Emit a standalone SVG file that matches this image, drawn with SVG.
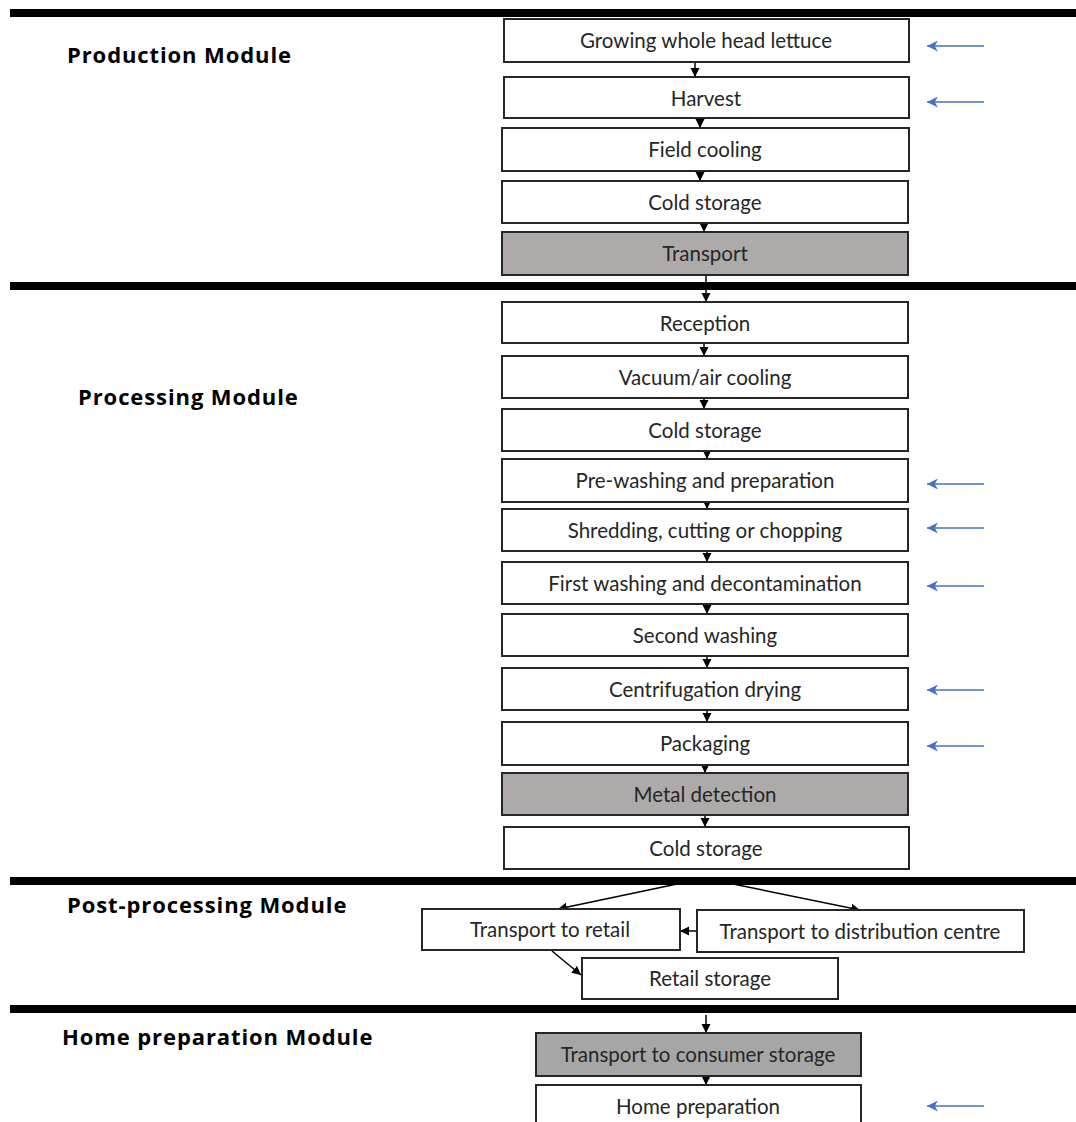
<svg xmlns="http://www.w3.org/2000/svg" width="1076" height="1122" viewBox="0 0 1076 1122">
<style>
.bar{fill:#000}
.box{fill:#fff;stroke:#262626;stroke-width:2}
.grey{fill:#aeaaaa;stroke:#262626;stroke-width:2}
.grey2{fill:#a6a6a6;stroke:#262626;stroke-width:2}
.t{font-family:"Lato","Liberation Sans",sans-serif;font-size:20.5px;fill:#262626;text-anchor:middle;dominant-baseline:central}
.m{font-family:"Open Sans","Liberation Sans",sans-serif;font-size:22px;font-weight:bold;letter-spacing:0.9px;fill:#000}
.c{stroke:#000;stroke-width:1.5;fill:none;marker-end:url(#ah)}
.b{stroke:#4472c4;stroke-width:1.5;fill:none;marker-end:url(#bh)}
</style>
<defs>
<marker id="ah" viewBox="0 0 10 10" refX="10" refY="5" markerWidth="9" markerHeight="10" markerUnits="userSpaceOnUse" orient="auto"><path d="M0,0 L10,5 L0,10 z" fill="#000"/></marker>
<marker id="bh" viewBox="0 0 10 10" refX="10" refY="5" markerWidth="11" markerHeight="11" markerUnits="userSpaceOnUse" orient="auto"><path d="M0,0 L10,5 L0,10 L3,5 z" fill="#4472c4"/></marker>
</defs>
<rect width="1076" height="1122" fill="#fff"/>
<g id="bars">
<rect class="bar" x="10" y="9" width="1066" height="8"/>
<rect class="bar" x="10" y="282" width="1066" height="8"/>
<rect class="bar" x="10" y="877" width="1066" height="8"/>
<rect class="bar" x="10" y="1005" width="1066" height="8"/>
</g>
<g id="labels">
<text class="m" x="67" y="63">Production Module</text>
<text class="m" x="78" y="405">Processing Module</text>
<text class="m" x="67" y="913">Post-processing Module</text>
<text class="m" x="62" y="1045">Home preparation Module</text>
</g>
<g id="connectors">
<line class="c" x1="695" y1="62" x2="695" y2="77"/>
<line class="c" x1="700" y1="118" x2="700" y2="128"/>
<line class="c" x1="700" y1="171" x2="700" y2="181"/>
<line class="c" x1="704" y1="223" x2="704" y2="232"/>
<line class="c" x1="706" y1="275" x2="706" y2="302"/>
<line class="c" x1="704" y1="343" x2="704" y2="356"/>
<line class="c" x1="704" y1="398" x2="704" y2="409"/>
<line class="c" x1="707" y1="451" x2="707" y2="459"/>
<line class="c" x1="707" y1="502" x2="707" y2="509"/>
<line class="c" x1="707" y1="551" x2="707" y2="562"/>
<line class="c" x1="707" y1="604" x2="707" y2="614"/>
<line class="c" x1="707" y1="656" x2="707" y2="668"/>
<line class="c" x1="707" y1="710" x2="707" y2="722"/>
<line class="c" x1="705" y1="765" x2="705" y2="773"/>
<line class="c" x1="705" y1="815" x2="705" y2="827"/>
<line class="c" x1="677" y1="884" x2="558" y2="909"/>
<line class="c" x1="733" y1="884" x2="860" y2="910"/>
<line class="c" x1="697" y1="931" x2="680" y2="931"/>
<line class="c" x1="552" y1="951" x2="581" y2="975"/>
<line class="c" x1="706" y1="1015" x2="706" y2="1033"/>
<line class="c" x1="706" y1="1076" x2="706" y2="1085"/>
<line class="b" x1="984" y1="46" x2="927" y2="46"/>
<line class="b" x1="984" y1="102" x2="927" y2="102"/>
<line class="b" x1="984" y1="484" x2="927" y2="484"/>
<line class="b" x1="984" y1="528" x2="927" y2="528"/>
<line class="b" x1="984" y1="586" x2="927" y2="586"/>
<line class="b" x1="984" y1="690" x2="927" y2="690"/>
<line class="b" x1="984" y1="746" x2="927" y2="746"/>
<line class="b" x1="984" y1="1106" x2="927" y2="1106"/>
</g>
<g id="n1"><rect class="box" x="504" y="19" width="405" height="43"/><text class="t" x="706" y="40">Growing whole head lettuce</text></g>
<g id="n2"><rect class="box" x="504" y="77" width="405" height="41"/><text class="t" x="706" y="98">Harvest</text></g>
<g id="n3"><rect class="box" x="502" y="128" width="407" height="43"/><text class="t" x="705" y="149">Field cooling</text></g>
<g id="n4"><rect class="box" x="502" y="181" width="406" height="42"/><text class="t" x="705" y="202">Cold storage</text></g>
<g id="n5"><rect class="grey" x="502" y="232" width="406" height="43"/><text class="t" x="705" y="253">Transport</text></g>
<g id="n6"><rect class="box" x="502" y="302" width="406" height="41"/><text class="t" x="705" y="323">Reception</text></g>
<g id="n7"><rect class="box" x="502" y="356" width="406" height="42"/><text class="t" x="705" y="377">Vacuum/air cooling</text></g>
<g id="n8"><rect class="box" x="502" y="409" width="406" height="42"/><text class="t" x="705" y="430">Cold storage</text></g>
<g id="n9"><rect class="box" x="502" y="459" width="406" height="43"/><text class="t" x="705" y="480">Pre-washing and preparation</text></g>
<g id="n10"><rect class="box" x="502" y="509" width="406" height="42"/><text class="t" x="705" y="530">Shredding, cutting or chopping</text></g>
<g id="n11"><rect class="box" x="502" y="562" width="406" height="42"/><text class="t" x="705" y="583">First washing and decontamination</text></g>
<g id="n12"><rect class="box" x="502" y="614" width="406" height="42"/><text class="t" x="705" y="635">Second washing</text></g>
<g id="n13"><rect class="box" x="502" y="668" width="406" height="42"/><text class="t" x="705" y="689">Centrifugation drying</text></g>
<g id="n14"><rect class="box" x="502" y="722" width="406" height="43"/><text class="t" x="705" y="743">Packaging</text></g>
<g id="n15"><rect class="grey" x="502" y="773" width="406" height="42"/><text class="t" x="705" y="794">Metal detection</text></g>
<g id="n16"><rect class="box" x="504" y="827" width="405" height="42"/><text class="t" x="706" y="848">Cold storage</text></g>
<g id="n17"><rect class="box" x="422" y="909" width="258" height="41"/><text class="t" x="550" y="929">Transport to retail</text></g>
<g id="n18"><rect class="box" x="697" y="910" width="327" height="42"/><text class="t" x="860" y="931">Transport to distribution centre</text></g>
<g id="n19"><rect class="box" x="582" y="958" width="256" height="41"/><text class="t" x="710" y="978">Retail storage</text></g>
<g id="n20"><rect class="grey2" x="536" y="1033" width="325" height="43"/><text class="t" x="698" y="1054">Transport to consumer storage</text></g>
<g id="n21"><rect class="box" x="536" y="1085" width="325" height="45"/><text class="t" x="698" y="1106">Home preparation</text></g>
</svg>
